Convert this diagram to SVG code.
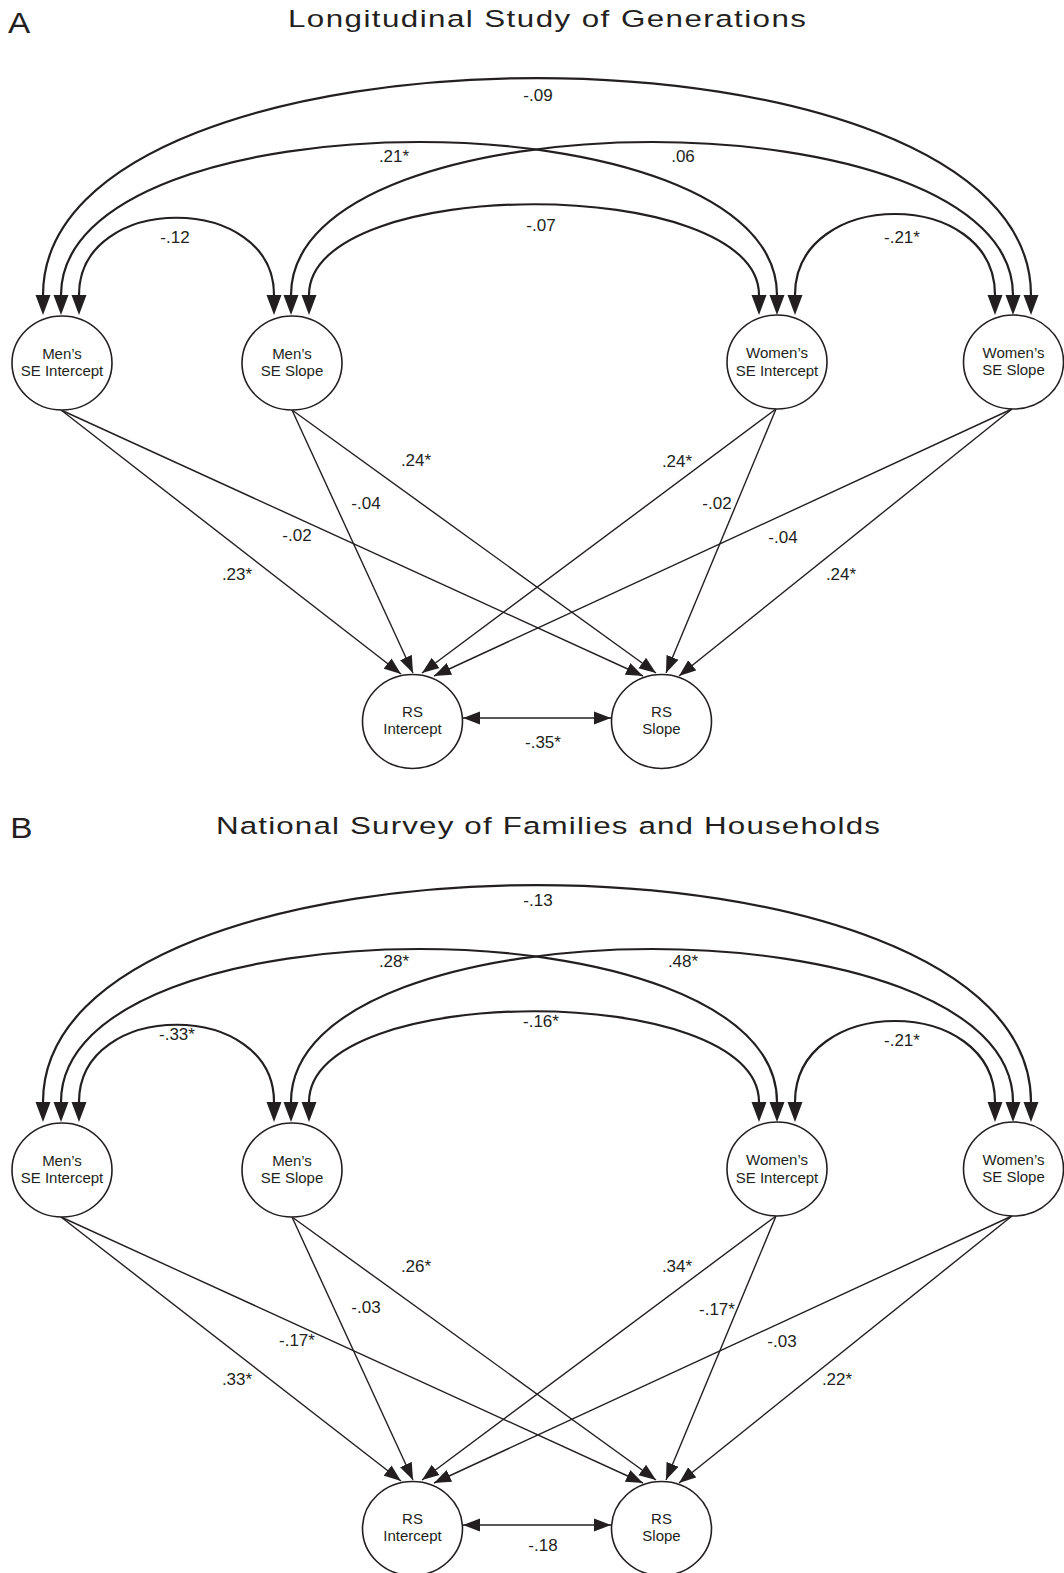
<svg xmlns="http://www.w3.org/2000/svg" width="1064" height="1573" viewBox="0 0 1064 1573">
<style>
.bg{fill:#ffffff}
.node ellipse{fill:#ffffff;stroke:#231f20;stroke-width:1.6}
.node text{font-family:"Liberation Sans",Arial,sans-serif;font-size:15px;fill:#231f20;text-anchor:middle}
.cov{fill:none;stroke:#231f20;stroke-width:2.2;marker-start:url(#hc);marker-end:url(#hc)}
.reg{fill:none;stroke:#231f20;stroke-width:1.4;marker-end:url(#hs)}
.dbl{fill:none;stroke:#231f20;stroke-width:1.6;marker-start:url(#hs2);marker-end:url(#hs)}
.lbl{font-family:"Liberation Sans",Arial,sans-serif;font-size:17px;fill:#231f20;text-anchor:middle}
.ttl{font-family:"Liberation Sans",Arial,sans-serif;font-size:24.5px;fill:#231f20;text-anchor:middle}
.pan{font-family:"Liberation Sans",Arial,sans-serif;font-size:29px;fill:#231f20}
</style>
<defs>
<marker id="hc" markerUnits="userSpaceOnUse" markerWidth="20" markerHeight="16" viewBox="0 -8 20 16" refX="0" refY="0" orient="auto-start-reverse">
<path d="M0,-7.5 L20,0 L0,7.5 Z" fill="#231f20"/>
</marker>
<marker id="hs" markerUnits="userSpaceOnUse" markerWidth="17" markerHeight="14" viewBox="0 -7 17 14" refX="17" refY="0" orient="auto">
<path d="M0,-6.5 L17,0 L0,6.5 Z" fill="#231f20"/>
</marker>
<marker id="hs2" markerUnits="userSpaceOnUse" markerWidth="17" markerHeight="14" viewBox="0 -7 17 14" refX="17" refY="0" orient="auto-start-reverse">
<path d="M0,-6.5 L17,0 L0,6.5 Z" fill="#231f20"/>
</marker>
</defs>
<rect class="bg" x="0" y="0" width="1064" height="1573"/>

<!-- Panel A -->
<g id="panelA">
<text class="pan" transform="scale(1.15,1)" x="7" y="33">A</text>
<text class="ttl" transform="scale(1.28,1)" x="427.3" y="27" textLength="404.7" lengthAdjust="spacing">Longitudinal Study of Generations</text>

<g id="connectorsA">
<path class="cov" d="M43,295 C43,5.7 1031,5.7 1031,295"/>
<path class="cov" d="M61,295 C61,91 777,91 777,295"/>
<path class="cov" d="M291,295 C291,91 1013,91 1013,295"/>
<path class="cov" d="M79,295 C79,192 274,192 274,295"/>
<path class="cov" d="M309,295 C309,174 759,174 759,295"/>
<path class="cov" d="M795,295 C795,187 995,187 995,295"/>
<path class="reg" d="M61,410 L401,674"/>
<path class="reg" d="M61,410 L643,676"/>
<path class="reg" d="M292,410 L413,673"/>
<path class="reg" d="M292,410 L656,673"/>
<path class="reg" d="M776,409 L422,673"/>
<path class="reg" d="M776,409 L666,673"/>
<path class="reg" d="M1012,409 L434,676"/>
<path class="reg" d="M1012,409 L679,676"/>
<path class="dbl" d="M463,718 L611,718"/>
</g>

<g id="A-mens-se-intercept" class="node"><ellipse cx="62" cy="363" rx="50" ry="47"/><text x="62" y="358.5">Men’s</text><text x="62" y="376">SE Intercept</text></g>
<g id="A-mens-se-slope" class="node"><ellipse cx="292" cy="363" rx="50" ry="47"/><text x="292" y="358.5">Men’s</text><text x="292" y="375.5">SE Slope</text></g>
<g id="A-womens-se-intercept" class="node"><ellipse cx="777" cy="362" rx="50" ry="47"/><text x="777" y="357.5">Women’s</text><text x="777" y="375.5">SE Intercept</text></g>
<g id="A-womens-se-slope" class="node"><ellipse cx="1013.5" cy="362" rx="50" ry="47"/><text x="1013.5" y="357.5">Women’s</text><text x="1013.5" y="374.5">SE Slope</text></g>
<g id="A-rs-intercept" class="node"><ellipse cx="412.5" cy="721.5" rx="50" ry="47"/><text x="412.5" y="716.5">RS</text><text x="412.5" y="734">Intercept</text></g>
<g id="A-rs-slope" class="node"><ellipse cx="661.5" cy="721.5" rx="50" ry="47"/><text x="661.5" y="716.5">RS</text><text x="661.5" y="734">Slope</text></g>

<g id="labelsA">
<text class="lbl" x="538" y="101">-.09</text>
<text class="lbl" x="394" y="162">.21*</text>
<text class="lbl" x="683" y="162">.06</text>
<text class="lbl" x="175" y="243">-.12</text>
<text class="lbl" x="541" y="231">-.07</text>
<text class="lbl" x="902" y="243">-.21*</text>
<text class="lbl" x="416" y="466">.24*</text>
<text class="lbl" x="366" y="509">-.04</text>
<text class="lbl" x="297" y="541">-.02</text>
<text class="lbl" x="237" y="580">.23*</text>
<text class="lbl" x="677" y="467">.24*</text>
<text class="lbl" x="717" y="509">-.02</text>
<text class="lbl" x="783" y="543">-.04</text>
<text class="lbl" x="841" y="580">.24*</text>
<text class="lbl" x="543" y="748">-.35*</text>
</g>
</g>

<!-- Panel B -->
<g id="panelB">
<text class="pan" transform="scale(1.15,1)" x="9" y="838">B</text>
<text class="ttl" transform="scale(1.28,1)" x="428.1" y="834" textLength="518.8" lengthAdjust="spacing">National Survey of Families and Households</text>

<g transform="translate(0,807)">
<g id="connectorsB">
<path class="cov" d="M43,295 C43,5.7 1031,5.7 1031,295"/>
<path class="cov" d="M61,295 C61,91 777,91 777,295"/>
<path class="cov" d="M291,295 C291,91 1013,91 1013,295"/>
<path class="cov" d="M79,295 C79,192 274,192 274,295"/>
<path class="cov" d="M309,295 C309,174 759,174 759,295"/>
<path class="cov" d="M795,295 C795,187 995,187 995,295"/>
<path class="reg" d="M61,410 L401,674"/>
<path class="reg" d="M61,410 L643,676"/>
<path class="reg" d="M292,410 L413,673"/>
<path class="reg" d="M292,410 L656,673"/>
<path class="reg" d="M776,409 L422,673"/>
<path class="reg" d="M776,409 L666,673"/>
<path class="reg" d="M1012,409 L434,676"/>
<path class="reg" d="M1012,409 L679,676"/>
<path class="dbl" d="M463,718 L611,718"/>
</g>
<g id="B-mens-se-intercept" class="node"><ellipse cx="62" cy="363" rx="50" ry="47"/><text x="62" y="358.5">Men’s</text><text x="62" y="376">SE Intercept</text></g>
<g id="B-mens-se-slope" class="node"><ellipse cx="292" cy="363" rx="50" ry="47"/><text x="292" y="358.5">Men’s</text><text x="292" y="375.5">SE Slope</text></g>
<g id="B-womens-se-intercept" class="node"><ellipse cx="777" cy="362" rx="50" ry="47"/><text x="777" y="357.5">Women’s</text><text x="777" y="375.5">SE Intercept</text></g>
<g id="B-womens-se-slope" class="node"><ellipse cx="1013.5" cy="362" rx="50" ry="47"/><text x="1013.5" y="357.5">Women’s</text><text x="1013.5" y="374.5">SE Slope</text></g>
<g id="B-rs-intercept" class="node"><ellipse cx="412.5" cy="721.5" rx="50" ry="47"/><text x="412.5" y="716.5">RS</text><text x="412.5" y="734">Intercept</text></g>
<g id="B-rs-slope" class="node"><ellipse cx="661.5" cy="721.5" rx="50" ry="47"/><text x="661.5" y="716.5">RS</text><text x="661.5" y="734">Slope</text></g>
</g>

<g id="labelsB">
<text class="lbl" x="538" y="906">-.13</text>
<text class="lbl" x="394" y="967">.28*</text>
<text class="lbl" x="683" y="967">.48*</text>
<text class="lbl" x="177" y="1040">-.33*</text>
<text class="lbl" x="541" y="1027">-.16*</text>
<text class="lbl" x="902" y="1046">-.21*</text>
<text class="lbl" x="416" y="1272">.26*</text>
<text class="lbl" x="366" y="1313">-.03</text>
<text class="lbl" x="297" y="1346">-.17*</text>
<text class="lbl" x="237" y="1385">.33*</text>
<text class="lbl" x="677" y="1272">.34*</text>
<text class="lbl" x="717" y="1315">-.17*</text>
<text class="lbl" x="782" y="1347">-.03</text>
<text class="lbl" x="837" y="1385">.22*</text>
<text class="lbl" x="543" y="1551">-.18</text>
</g>
</g>
</svg>
